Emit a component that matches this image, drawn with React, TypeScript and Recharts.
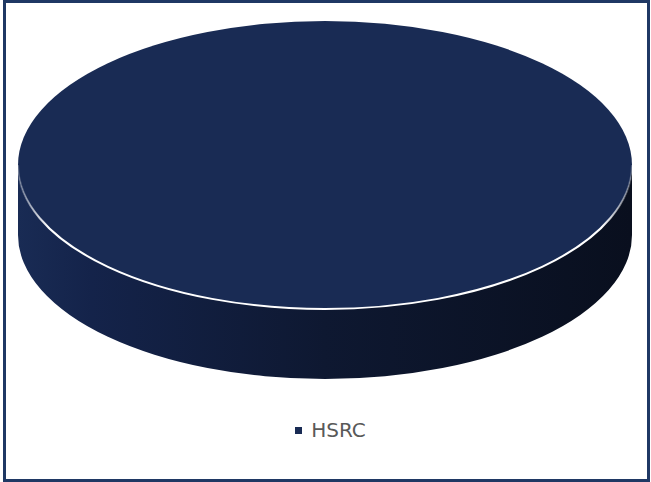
import { PieChart, Pie, Legend } from "recharts";

const categories = ["HSRC"];
const shares = [100];

const chartData = categories.map((name, i) => ({ name, value: shares[i] }));

const TILT = 0.469;
const DEPTH = 70;

function CylinderSlice(props: any) {
  const { cx, cy, outerRadius, fill } = props;
  const rx = outerRadius;
  const ry = outerRadius * TILT;
  const side = `M ${cx - rx} ${cy} A ${rx} ${ry} 0 0 0 ${cx + rx} ${cy} L ${cx + rx} ${cy + DEPTH} A ${rx} ${ry} 0 0 1 ${cx - rx} ${cy + DEPTH} Z`;
  const rim = `M ${cx - rx} ${cy} A ${rx} ${ry} 0 0 0 ${cx + rx} ${cy}`;

  return (
    <g>
      <path d={side} fill="url(#sideShade)" />
      <ellipse cx={cx} cy={cy} rx={rx} ry={ry} fill={fill} />
      <path d={rim} fill="none" stroke="url(#rimFade)" strokeWidth={2} />
    </g>
  );
}

function LegendContent({ payload }: any) {
  return (
    <div style={{ display: "flex", justifyContent: "center", alignItems: "center" }}>
      {(payload || []).map((entry: any) => (
        <div key={entry.value} style={{ display: "flex", alignItems: "center", marginLeft: 10 }}>
          <span
            style={{
              width: 7,
              height: 7,
              background: entry.color,
              display: "inline-block",
              marginRight: 9,
            }}
          />
          <span style={{ color: "#595959", fontSize: 20, fontFamily: "DejaVu Sans" }}>
            {entry.value}
          </span>
        </div>
      ))}
    </div>
  );
}

export default function App() {
  return (
    <div style={{ position: "absolute", left: 0, top: 0, width: 651, height: 482, background: "#fff" }}>
      <div
        style={{
          position: "absolute",
          left: 3,
          top: 0,
          width: 647,
          height: 482,
          boxSizing: "border-box",
          border: "3px solid #1f3864",
        }}
      />
      <PieChart width={651} height={482} margin={{ top: 0, right: 0, bottom: 0, left: 0 }}>
        <defs>
          <linearGradient id="sideShade" x1="0" y1="0" x2="1" y2="0">
            <stop offset="0%" stopColor="#192b54" />
            <stop offset="12%" stopColor="#14234a" />
            <stop offset="50%" stopColor="#0e1831" />
            <stop offset="100%" stopColor="#090f1e" />
          </linearGradient>
          <linearGradient id="rimFade" x1="0" y1="0" x2="1" y2="0">
            <stop offset="0%" stopColor="#ffffff" stopOpacity={0.2} />
            <stop offset="5%" stopColor="#ffffff" stopOpacity={1} />
            <stop offset="95%" stopColor="#ffffff" stopOpacity={1} />
            <stop offset="100%" stopColor="#ffffff" stopOpacity={0.2} />
          </linearGradient>
        </defs>
        <Pie
          data={chartData}
          dataKey="value"
          nameKey="name"
          cx={325}
          cy={165}
          outerRadius={307}
          startAngle={90}
          endAngle={-270}
          fill="#192b54"
          stroke="none"
          shape={CylinderSlice}
          isAnimationActive={false}
        />
        <Legend
          content={LegendContent}
          wrapperStyle={{ position: "absolute", top: 418, left: 0, width: 651 }}
        />
      </PieChart>
    </div>
  );
}
